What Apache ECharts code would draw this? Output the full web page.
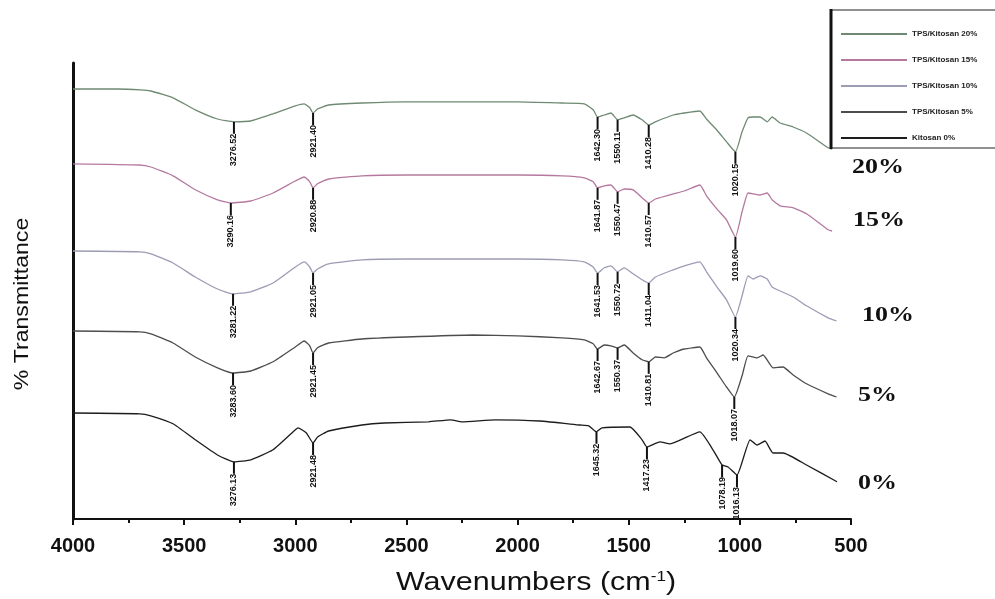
<!DOCTYPE html>
<html>
<head>
<meta charset="utf-8">
<script src="https://cdn.jsdelivr.net/npm/echarts@6/dist/echarts.min.js"></script>
<style>
  html, body { margin: 0; background: #fff; }
  #chart { width: 995px; height: 599px; }
</style>
</head>
<body>
<div id="chart"></div>
<script>
// [wavenumber, transmittance (offset, arbitrary units)]
const tps20 = [[4000,107.5],[3800,107.5],[3700,107.3],[3650,107.0],[3550,105.3],[3450,102.3],[3350,100.0],[3276,99.3],[3200,99.5],[3100,101.3],[3000,103.3],[2960,103.8],[2935,102.8],[2920,101.5],[2900,102.5],[2850,103.5],[2700,104.0],[2500,104.3],[2000,104.3],[1800,104.0],[1700,103.8],[1660,102.3],[1640,100.5],[1610,101.0],[1580,101.5],[1550,99.8],[1520,100.3],[1480,101.0],[1440,99.8],[1410,98.5],[1380,99.3],[1300,101.0],[1250,101.5],[1180,102.0],[1150,100.0],[1100,97.0],[1060,94.3],[1020,91.8],[990,96.8],[963,100.3],[940,100.5],[909,100.5],[877,99.3],[855,100.5],[819,99.0],[760,98.0],[700,96.5],[603,92.8],[585,92.5]]
const tps15 = [[4000,88.8],[3700,88.5],[3650,88.0],[3550,85.8],[3450,82.3],[3350,79.8],[3290,79.0],[3200,79.5],[3100,81.5],[3000,84.5],[2960,85.5],[2935,84.3],[2920,82.8],[2900,83.8],[2850,85.0],[2700,85.8],[2500,86.0],[2000,86.0],[1800,85.8],[1700,85.3],[1660,84.3],[1640,82.8],[1610,83.3],[1580,83.5],[1550,81.8],[1520,82.5],[1480,82.3],[1440,80.3],[1410,79.0],[1380,80.0],[1300,81.3],[1250,82.0],[1180,83.5],[1150,80.8],[1100,77.3],[1060,74.8],[1020,70.5],[990,76.8],[963,81.5],[940,81.3],[909,81.0],[877,81.5],[855,79.8],[819,78.3],[760,77.8],[700,76.3],[603,72.3],[585,72.0]]
const tps10 = [[4000,67.0],[3700,66.8],[3650,66.3],[3550,64.0],[3450,60.5],[3350,57.5],[3280,56.3],[3200,56.8],[3100,59.0],[3000,63.0],[2960,64.3],[2935,63.0],[2920,61.5],[2900,62.5],[2850,63.8],[2700,64.8],[2500,65.0],[2000,65.0],[1800,64.8],[1700,64.3],[1660,63.0],[1640,61.5],[1610,62.8],[1580,63.3],[1550,61.8],[1520,62.8],[1480,61.3],[1440,59.8],[1410,59.0],[1380,60.5],[1300,62.3],[1250,63.3],[1180,64.3],[1150,61.8],[1100,57.8],[1060,54.8],[1020,50.5],[990,55.8],[963,60.8],[940,60.0],[909,60.8],[877,60.0],[855,58.0],[819,57.0],[760,55.5],[700,53.3],[603,50.3],[565,49.5]]
const tps5 = [[4000,47.0],[3700,46.8],[3650,46.3],[3550,44.0],[3450,40.5],[3350,37.8],[3280,36.5],[3200,37.0],[3100,39.3],[3000,43.0],[2960,44.5],[2935,43.3],[2920,41.5],[2900,42.8],[2850,44.0],[2700,45.0],[2500,45.5],[2200,46.0],[2000,45.8],[1800,45.3],[1700,44.8],[1660,43.8],[1640,42.5],[1610,43.5],[1580,43.3],[1550,42.8],[1520,43.5],[1480,41.5],[1440,39.8],[1410,39.3],[1380,40.5],[1340,40.3],[1300,41.5],[1250,42.5],[1180,43.0],[1150,40.3],[1100,36.3],[1060,33.0],[1025,30.5],[990,35.8],[963,40.8],[922,40.3],[895,41.0],[851,37.8],[806,38.0],[760,36.0],[700,33.8],[603,31.3],[565,30.5]]
const kitosan0 = [[4000,26.5],[3700,26.3],[3650,25.8],[3550,23.8],[3450,19.8],[3350,16.0],[3276,14.3],[3200,14.8],[3100,17.3],[3000,22.3],[2988,22.8],[2950,21.5],[2920,19.0],[2900,20.5],[2850,22.0],[2700,23.5],[2600,24.0],[2400,24.3],[2300,24.8],[2250,24.3],[2100,24.8],[1900,24.5],[1720,23.5],[1680,23.3],[1645,21.8],[1620,22.8],[1494,23.0],[1440,19.8],[1418,18.0],[1360,19.3],[1314,18.8],[1180,21.8],[1121,17.3],[1080,13.5],[1053,13.0],[1013,11.0],[954,19.8],[923,18.5],[887,19.5],[851,16.5],[806,16.5],[700,13.5],[563,9.3]]

// peak positions and their printed labels
const peaks20 = [[3276,'3276.52'],[2920,'2921.40'],[1640,'1642.30'],[1550,'1550.11'],[1410,'1410.28'],[1020,'1020.15']]
const peaks15 = [[3290,'3290.16'],[2920,'2920.88'],[1640,'1641.87'],[1550,'1550.47'],[1410,'1410.57'],[1020,'1019.60']]
const peaks10 = [[3280,'3281.22'],[2920,'2921.05'],[1640,'1641.53'],[1550,'1550.72'],[1410,'1411.04'],[1020,'1020.34']]
const peaks5 = [[3280,'3283.60'],[2920,'2921.45'],[1640,'1642.67'],[1550,'1550.37'],[1410,'1410.81'],[1025,'1018.07']]
const peaks0 = [[3276,'3276.13'],[2920,'2921.48'],[1645,'1645.32'],[1418,'1417.23'],[1080,'1078.19'],[1013,'1016.13']]

const names = ['TPS/Kitosan 20%', 'TPS/Kitosan 15%', 'TPS/Kitosan 10%', 'TPS/Kitosan 5%', 'Kitosan 0%']
const colors = ['#6e8a72', '#b5799f', '#9c9cb4', '#4d4d4d', '#1c1c1c']
const sideLabels = ['20%', '15%', '10%', '5%', '0%']

function yAt(data, x) {
  for (let i = 0; i < data.length - 1; i++) {
    const a = data[i], b = data[i + 1]
    if (x <= a[0] && x >= b[0]) {
      return a[1] + (b[1] - a[1]) * (a[0] - x) / (a[0] - b[0])
    }
  }
  return data[data.length - 1][1]
}

function makeSeries(name, data, peaks, color) {
  return {
    name: name,
    type: 'line',
    data: data,
    showSymbol: false,
    smooth: 0.15,
    lineStyle: { color: color, width: 1.3 },
    itemStyle: { color: color },
    markPoint: {
      silent: true,
      symbol: 'rect',
      symbolSize: [2, 12],
      symbolOffset: [0, 6],
      itemStyle: { color: '#111' },
      label: {
        show: true,
        position: 'bottom',
        distance: 0,
        rotate: 90,
        align: 'right',
        verticalAlign: 'middle',
        fontSize: 9,
        fontWeight: 'bold',
        color: '#111',
        formatter: p => p.name
      },
      data: peaks.map(p => ({ name: p[1], coord: [p[0], yAt(data, p[0])] }))
    }
  }
}

const sideFont = 'bold 22px "Liberation Serif"'

const chart = echarts.init(document.getElementById('chart'))
const option = {
  animation: false,
  backgroundColor: '#fff',
  grid: { left: 73, right: 144, top: 63, bottom: 80 },
  legend: {
    orient: 'vertical',
    left: 836,
    top: 25,
    z: 10,
    itemWidth: 66,
    itemHeight: 2,
    itemGap: 18,
    icon: 'rect',
    textStyle: { fontSize: 8, fontWeight: 'bold', color: '#222', fontFamily: 'Liberation Sans' },
    data: names
  },
  xAxis: {
    type: 'value',
    inverse: true,
    min: 500,
    max: 4000,
    interval: 500,
    axisLine: { lineStyle: { color: '#111', width: 2 } },
    axisTick: { length: 6, lineStyle: { color: '#111', width: 2 } },
    minorTick: { show: true, splitNumber: 2, length: 4, lineStyle: { color: '#111', width: 2 } },
    splitLine: { show: false },
    axisLabel: { fontSize: 20, fontWeight: 'bold', color: '#111', fontFamily: 'Liberation Sans', margin: 17,
      formatter: v => String(v) }
  },
  yAxis: {
    type: 'value',
    min: 0,
    max: 114,
    axisLine: { show: true, lineStyle: { color: '#111', width: 3 } },
    axisTick: { show: false },
    axisLabel: { show: false },
    splitLine: { show: false }
  },
  graphic: [
    { type: 'rect', z: 5, shape: { x: 831, y: 10, width: 170, height: 138 },
      style: { fill: '#fff', stroke: '#222', lineWidth: 1 } },
    { type: 'line', z: 6, shape: { x1: 831, y1: 9, x2: 831, y2: 149 },
      style: { stroke: '#111', lineWidth: 3 } },
    { type: 'text', x: 852, y: 167, scaleX: 1.18, style: { text: sideLabels[0], font: sideFont, fill: '#111', verticalAlign: 'middle' } },
    { type: 'text', x: 853, y: 220, scaleX: 1.18, style: { text: sideLabels[1], font: sideFont, fill: '#111', verticalAlign: 'middle' } },
    { type: 'text', x: 862, y: 315, scaleX: 1.18, style: { text: sideLabels[2], font: sideFont, fill: '#111', verticalAlign: 'middle' } },
    { type: 'text', x: 858, y: 395, scaleX: 1.18, style: { text: sideLabels[3], font: sideFont, fill: '#111', verticalAlign: 'middle' } },
    { type: 'text', x: 858, y: 483, scaleX: 1.18, style: { text: sideLabels[4], font: sideFont, fill: '#111', verticalAlign: 'middle' } },
    { type: 'text', x: 536, y: 583, scaleX: 1.22,
      style: { text: 'Wavenumbers (cm{sup|-1})', font: '25px "Liberation Sans"', fill: '#111',
        align: 'center', verticalAlign: 'middle',
        rich: { sup: { fontSize: 14, verticalAlign: 'top', padding: [0, 0, 12, 0], fill: '#111' } } } },
    { type: 'text', x: 22, y: 304, rotation: Math.PI / 2, scaleX: 1.1,
      style: { text: '% Transmittance', font: '21px "Liberation Sans"', fill: '#111', align: 'center', verticalAlign: 'middle' } }
  ],
  series: [
    makeSeries(names[0], tps20, peaks20, colors[0]),
    makeSeries(names[1], tps15, peaks15, colors[1]),
    makeSeries(names[2], tps10, peaks10, colors[2]),
    makeSeries(names[3], tps5, peaks5, colors[3]),
    makeSeries(names[4], kitosan0, peaks0, colors[4])
  ]
}
chart.setOption(option)
</script>
</body>
</html>
